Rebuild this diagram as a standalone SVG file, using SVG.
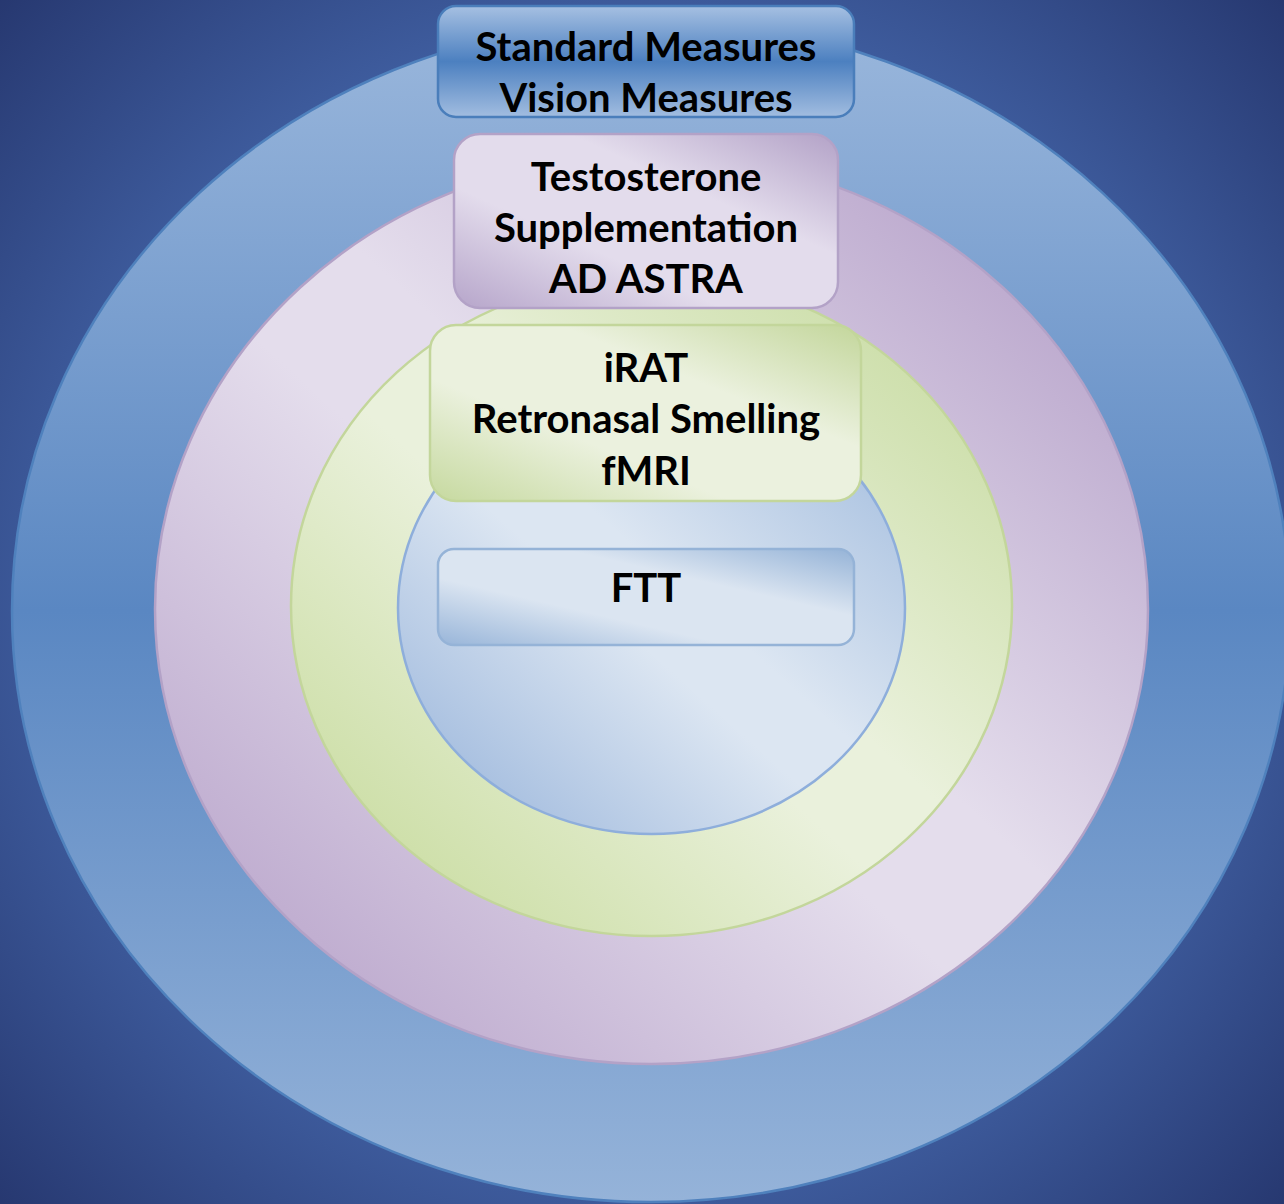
<svg xmlns="http://www.w3.org/2000/svg" width="1284" height="1204" viewBox="0 0 1284 1204">
<defs>
<radialGradient id="bg" cx="642" cy="602" r="890" gradientUnits="userSpaceOnUse">
<stop offset="0" stop-color="#4b6bb0"/>
<stop offset="0.6" stop-color="#4262a5"/>
<stop offset="1" stop-color="#26376f"/>
</radialGradient>
<linearGradient id="gOuter" x1="0" y1="0" x2="0" y2="1">
<stop offset="0" stop-color="#9ab7dc"/>
<stop offset="0.5" stop-color="#5a87c2"/>
<stop offset="1" stop-color="#95b3d9"/>
</linearGradient>
<linearGradient id="gPurple" x1="1" y1="0" x2="0" y2="1">
<stop offset="0" stop-color="#b8a5cb"/>
<stop offset="0.15" stop-color="#bfadd0"/>
<stop offset="0.45" stop-color="#e4ddec"/>
<stop offset="0.55" stop-color="#e4ddec"/>
<stop offset="0.85" stop-color="#c1afd1"/>
<stop offset="1" stop-color="#baa7cc"/>
</linearGradient>
<linearGradient id="gGreen" x1="1" y1="0" x2="0" y2="1">
<stop offset="0" stop-color="#c6da9f"/>
<stop offset="0.15" stop-color="#cfe0ae"/>
<stop offset="0.45" stop-color="#eaf1dc"/>
<stop offset="0.55" stop-color="#eaf1dc"/>
<stop offset="0.85" stop-color="#cfe0ab"/>
<stop offset="1" stop-color="#c6da9f"/>
</linearGradient>
<linearGradient id="gBlue" x1="1" y1="0" x2="0" y2="1">
<stop offset="0" stop-color="#a3bde0"/>
<stop offset="0.15" stop-color="#b1c7e3"/>
<stop offset="0.45" stop-color="#dce6f2"/>
<stop offset="0.55" stop-color="#dce6f2"/>
<stop offset="0.85" stop-color="#abc2e1"/>
<stop offset="1" stop-color="#a0bbdf"/>
</linearGradient>
<linearGradient id="bStd" x1="0" y1="0" x2="0" y2="1">
<stop offset="0" stop-color="#a6c0e2"/>
<stop offset="0.5" stop-color="#4c80c0"/>
<stop offset="1" stop-color="#a2bde0"/>
</linearGradient>
<linearGradient id="bPurple" x1="1" y1="0" x2="0" y2="1">
<stop offset="0" stop-color="#b3a2c7"/>
<stop offset="0.35" stop-color="#e3dcec"/>
<stop offset="0.65" stop-color="#e3dcec"/>
<stop offset="1" stop-color="#b6a5ca"/>
</linearGradient>
<linearGradient id="bGreen" x1="1" y1="0" x2="0" y2="1">
<stop offset="0" stop-color="#c3d69b"/>
<stop offset="0.35" stop-color="#ebf1de"/>
<stop offset="0.65" stop-color="#ebf1de"/>
<stop offset="1" stop-color="#c6d99f"/>
</linearGradient>
<linearGradient id="bBlue" x1="1" y1="0" x2="0" y2="1">
<stop offset="0" stop-color="#95b3d7"/>
<stop offset="0.35" stop-color="#dbe5f1"/>
<stop offset="0.65" stop-color="#dbe5f1"/>
<stop offset="1" stop-color="#98b5d9"/>
</linearGradient>
</defs>
<style>
.t{font-family:"Lato","Open Sans","Liberation Sans",sans-serif;font-weight:bold;font-size:40px;fill:#000;text-anchor:middle}
</style>
<rect x="0" y="0" width="1284" height="1204" fill="url(#bg)"/>
<g id="ring-outer"><ellipse cx="651" cy="611" rx="639" ry="591" fill="url(#gOuter)" stroke="#4f81bd" stroke-width="2.5"/></g>
<g id="ring-purple"><ellipse cx="651.5" cy="609" rx="496.5" ry="455" fill="url(#gPurple)" stroke="#b3a2c7" stroke-width="2.5"/></g>
<g id="ring-green"><ellipse cx="651.5" cy="606" rx="360.5" ry="330" fill="url(#gGreen)" stroke="#c3d69b" stroke-width="2.5"/></g>
<g id="ring-blue"><ellipse cx="651.5" cy="608" rx="253.5" ry="226" fill="url(#gBlue)" stroke="#8eaedb" stroke-width="2.5"/></g>
<g id="connectors"></g>
<g id="box-standard">
<rect x="438" y="6" width="416" height="111" rx="18" fill="url(#bStd)" stroke="#4a7ebb" stroke-width="2.5"/>
<text class="t" x="646" y="61">Standard Measures</text>
<text class="t" x="646" y="112">Vision Measures</text>
</g>
<g id="box-testosterone">
<rect x="454" y="134" width="384" height="174" rx="26" fill="url(#bPurple)" stroke="#b3a2c7" stroke-width="2.5"/>
<text class="t" x="646" y="191">Testosterone</text>
<text class="t" x="646" y="242">Supplementation</text>
<text class="t" x="646" y="293">AD ASTRA</text>
</g>
<g id="box-irat">
<rect x="430" y="325" width="431" height="176" rx="26" fill="url(#bGreen)" stroke="#c3d69b" stroke-width="2.5"/>
<text class="t" x="646" y="382">iRAT</text>
<text class="t" x="646" y="433">Retronasal Smelling</text>
<text class="t" x="646" y="485">fMRI</text>
</g>
<g id="box-ftt">
<rect x="438" y="549" width="416" height="96" rx="16" fill="url(#bBlue)" stroke="#95b3d7" stroke-width="2.5"/>
<text class="t" x="646" y="602">FTT</text>
</g>
</svg>
